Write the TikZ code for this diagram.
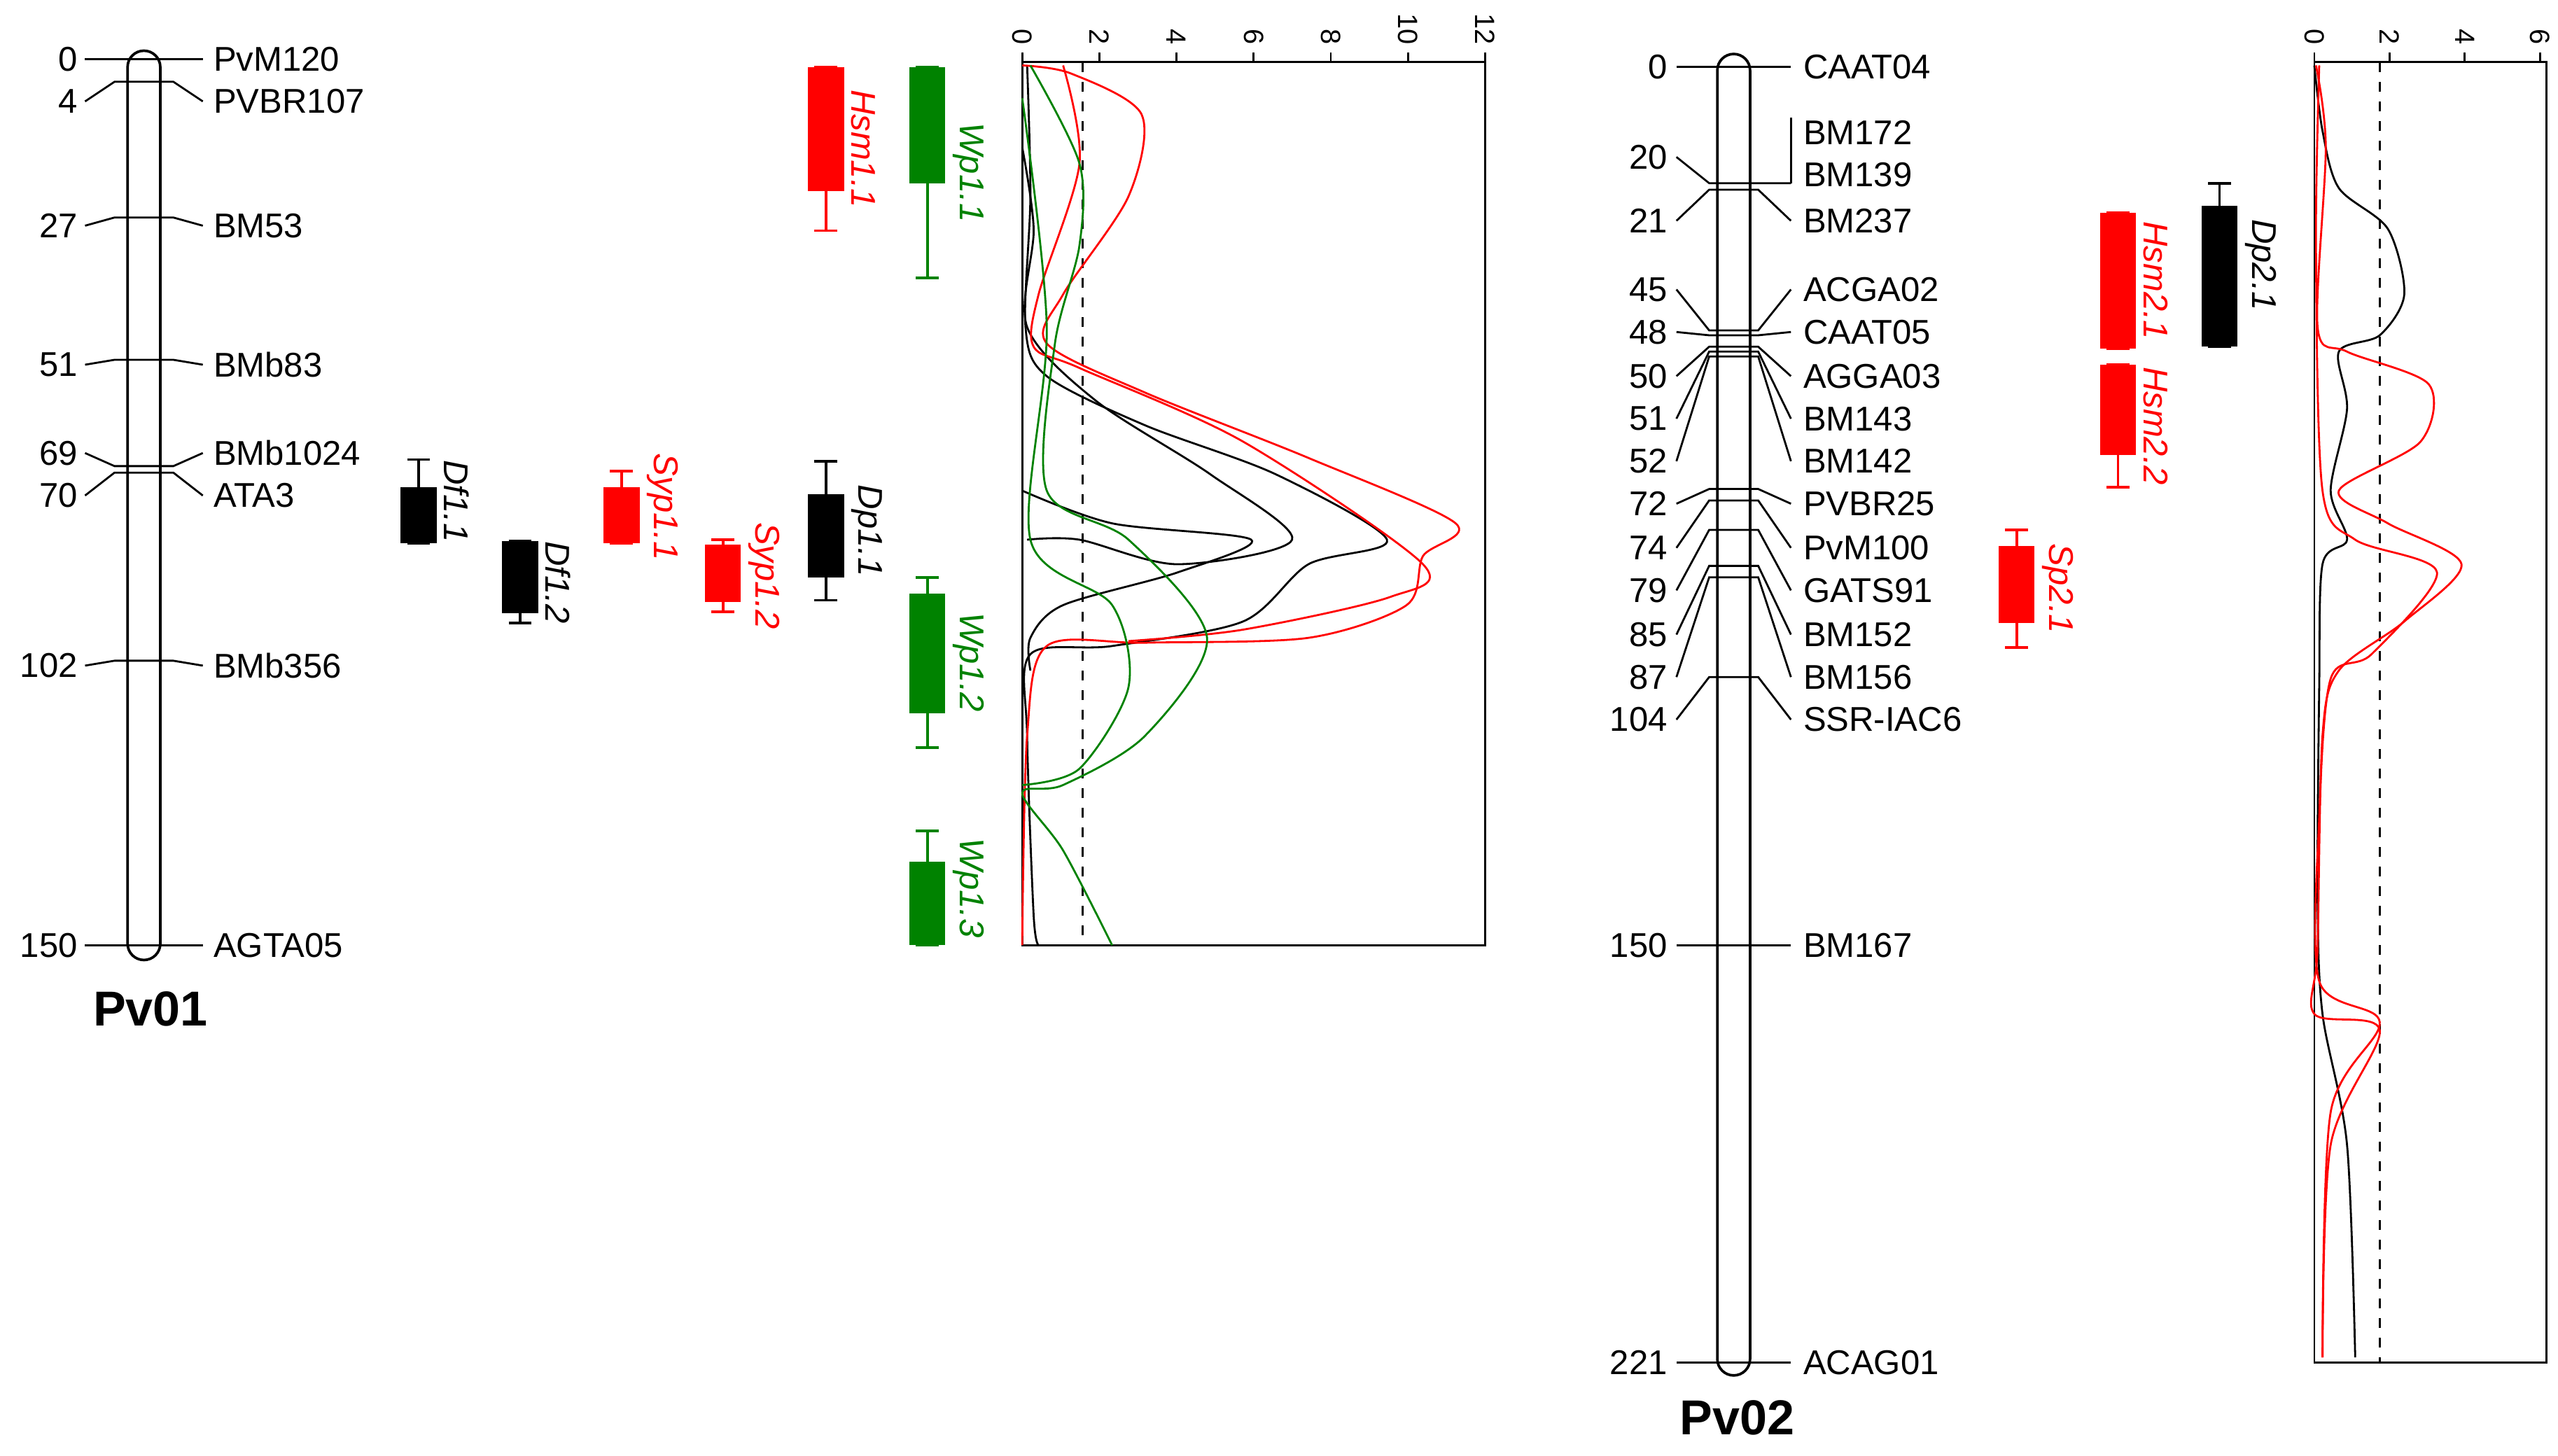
\documentclass[tikz,border=0pt]{standalone}
\usepackage{fontspec}
\setmainfont{Liberation Sans}
\usetikzlibrary{positioning}
\definecolor{qred}{RGB}{255,0,0}
\definecolor{qgreen}{RGB}{0,130,0}
\tikzset{
marker/.style={font=\fontsize{10.5}{12}\selectfont, inner sep=1pt},
qtllabel/.style={font=\fontsize{10.5}{12}\selectfont\itshape, rotate=-90, inner sep=1pt},
axlab/.style={font=\fontsize{8.5}{10}\selectfont, rotate=-90, inner sep=1pt},
chrom/.style={draw, thick, rounded corners=5pt},
}
% \markL{name}{pos y}{label y}{cM}{marker}
\newcommand{\markL}[5]{
  \node[marker, anchor=east] (#1n) at (50,#3) {#4};
  \node[marker, anchor=west] (#1m) at (128,#3) {#5};
  \draw (52,#3) -- (70,#2) -- (106,#2) -- (124,#3);
}
\newcommand{\markR}[5]{
  \node[marker, anchor=east] (#1n) at (1022,#3) {#4};
  \node[marker, anchor=west] (#1m) at (1100,#3) {#5};
  \draw (1025,#3) -- (1045,#2) -- (1075,#2) -- (1095,#3);
}
% \qtl{name}{colour}{x}{box top}{box bottom}{whisker top}{whisker bottom}{label}
\newcommand{\qtl}[8]{
  \draw[#2, thick] (#3,#6) -- (#3,#7) (#3-7,#6) -- (#3+7,#6) (#3-7,#7) -- (#3+7,#7);
  \fill[#2] (#3-11,#4) rectangle (#3+11,#5);
  \node[qtllabel, #2, anchor=south] (#1) at (#3+13,{(#6+#7)/2}) {#8};
}
\begin{document}
\begin{tikzpicture}[x=0.5pt, y=-0.5pt, line width=0.6pt]
\useasboundingbox (0,0) rectangle (1564,890);
% Pv01
\draw[chrom] (78,31) rectangle (98,587);
\markL{a}{36}{36}{0}{PvM120}
\markL{b}{50}{62}{4}{PVBR107}
\markL{c}{133}{138}{27}{BM53}
\markL{d}{220}{223}{51}{BMb83}
\markL{e}{285}{277}{69}{BMb1024}
\markL{f}{289}{303}{70}{ATA3}
\markL{g}{404}{407}{102}{BMb356}
\markL{h}{578}{578}{150}{AGTA05}
\node[font=\fontsize{15}{17}\selectfont\bfseries] (pv01) at (92,617) {Pv01};
% QTL Pv01
\qtl{df11}{black}{256}{298}{332}{281}{332}{Df1.1}
\qtl{df12}{black}{318}{331}{375}{331}{381}{Df1.2}
\qtl{syp11}{qred}{380}{298}{332}{288}{332}{Syp1.1}
\qtl{syp12}{qred}{442}{333}{368}{330}{374}{Syp1.2}
\qtl{dp11}{black}{505}{302}{353}{282}{367}{Dp1.1}
\qtl{hsm11}{qred}{505}{41}{117}{41}{141}{Hsm1.1}
\qtl{wp11}{qgreen}{567}{41}{112}{41}{170}{Wp1.1}
\qtl{wp12}{qgreen}{567}{363}{436}{353}{457}{Wp1.2}
\qtl{wp13}{qgreen}{567}{527}{578}{508}{578}{Wp1.3}
% LOD plot 1
\draw (625,38) rectangle (908,578);
\foreach \v in {0,2,...,12} {
  \draw (625+23.58*\v,38) -- (625+23.58*\v,32);
  \node[axlab, anchor=east] (ax1\v) at (625+23.58*\v,30) {\v};
}
\draw[dashed] (662,38) -- (662,578);
\draw plot[smooth] coordinates {(628,40) (630,120) (627,200) (640,230) (700,260) (780,290) (848,330) (800,345) (760,380) (680,395) (630,400) (628,450) (632,560) (635,578)};
\draw plot[smooth] coordinates {(625,300) (680,320) (765,330) (720,350) (650,370) (630,390) (630,410)};
\draw plot[smooth] coordinates {(625,90) (632,140) (628,200) (670,245) (740,290) (790,330) (720,345) (660,330) (628,330)};
\draw[qred] plot[smooth] coordinates {(625,40) (655,45) (698,70) (690,120) (650,180) (640,210) (700,240) (800,280) (890,320) (870,340) (860,370) (800,390) (700,393) (640,395) (628,450) (625,578)};
\draw[qred] plot[smooth] coordinates {(650,40) (660,100) (635,180) (632,212) (660,225) (760,270) (870,345) (850,365) (760,385) (690,392)};
\draw[qgreen] plot[smooth] coordinates {(630,40) (660,100) (660,150) (645,210) (640,300) (690,330) (738,390) (700,450) (650,480) (625,485) (650,520) (680,578)};
\draw[qgreen] plot[smooth] coordinates {(625,60) (640,200) (630,330) (680,370) (690,420) (660,470) (625,480)};
% Pv02
\draw[chrom] (1050,33) rectangle (1070,841);
\markR{p}{41}{41}{0}{CAAT04}
\node[marker, anchor=west] (p2m) at (1100,81) {BM172};
\node[marker, anchor=west] (qm) at (1100,107) {BM139};
\node[marker, anchor=east] (qn) at (1022,96) {20};
\draw (1025,96) -- (1045,112) -- (1075,112) -- (1095,112);
\draw (1095,72) -- (1095,112);
\markR{r}{116}{135}{21}{BM237}
\markR{s}{202}{177}{45}{ACGA02}
\markR{t}{205}{203}{48}{CAAT05}
\markR{u}{212}{230}{50}{AGGA03}
\markR{v}{215}{256}{51}{BM143}
\markR{w}{218}{282}{52}{BM142}
\markR{x}{299}{308}{72}{PVBR25}
\markR{y}{306}{335}{74}{PvM100}
\markR{z}{324}{361}{79}{GATS91}
\markR{k}{346}{388}{85}{BM152}
\markR{l}{353}{414}{87}{BM156}
\markR{m}{414}{440}{104}{SSR-IAC6}
\markR{o}{578}{578}{150}{BM167}
\markR{j}{833}{833}{221}{ACAG01}
\node[font=\fontsize{15}{17}\selectfont\bfseries] (pv02) at (1062,867) {Pv02};
% QTL Pv02
\qtl{dp21}{black}{1357}{126}{212}{112}{212}{Dp2.1}
\qtl{hsm21}{qred}{1295}{130}{213}{130}{213}{Hsm2.1}
\qtl{hsm22}{qred}{1295}{223}{278}{223}{298}{Hsm2.2}
\qtl{sp21}{qred}{1233}{334}{381}{324}{396}{Sp2.1}
% LOD plot 2
\draw (1415,38) rectangle (1557,833);
\foreach \v in {0,2,4,6} {
  \draw (1415+23*\v,38) -- (1415+23*\v,32);
  \node[axlab, anchor=east] (ax2\v) at (1415+23*\v,30) {\v};
}
\draw[dashed] (1455,38) -- (1455,833);
\draw plot[smooth] coordinates {(1415,40) (1420,80) (1430,115) (1460,140) (1470,180) (1455,205) (1430,215) (1435,250) (1425,300) (1435,330) (1420,345) (1418,420) (1417,550) (1420,620) (1435,700) (1440,830)};
\draw[qred] plot[smooth] coordinates {(1416,40) (1422,90) (1417,200) (1435,215) (1485,235) (1480,270) (1430,300) (1460,320) (1505,345) (1470,380) (1430,410) (1420,450) (1417,580) (1415,620) (1455,630) (1425,700) (1420,830)};
\draw[qred] plot[smooth] coordinates {(1418,40) (1416,150) (1420,300) (1440,330) (1490,350) (1450,400) (1425,415) (1418,500) (1418,600) (1455,625) (1425,680) (1420,830)};
\end{tikzpicture}
\end{document}
